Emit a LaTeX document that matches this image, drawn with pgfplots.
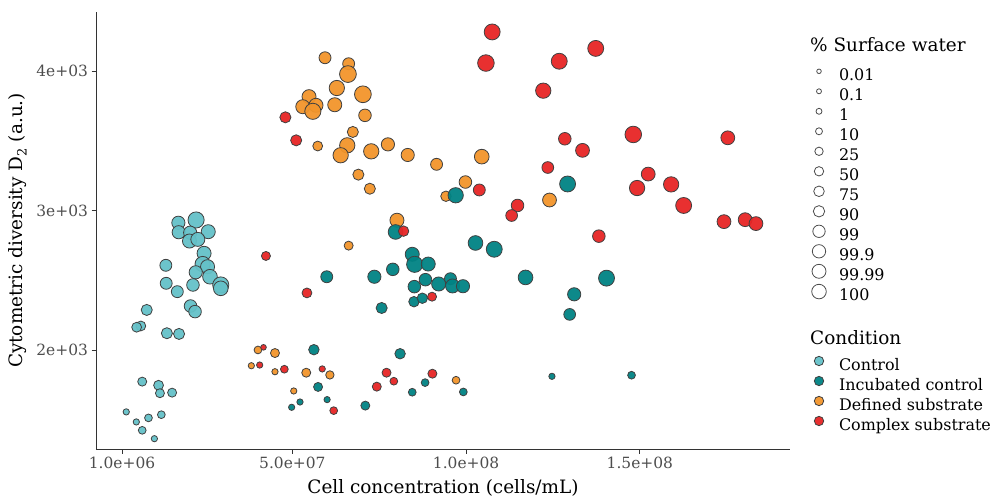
\documentclass[border=0pt]{standalone}
\usepackage{fontspec}
\setmainfont{DejaVu Serif}
\usepackage{pgfplots}
\usepackage{pgfplotstable}
\pgfplotsset{compat=1.18}
\definecolor{ctrl}{HTML}{64C1C8}
\definecolor{incub}{HTML}{008384}
\definecolor{defsub}{HTML}{F2952B}
\definecolor{cplx}{HTML}{E72525}
\definecolor{tickgrey}{HTML}{4D4D4D}

\pgfplotsset{
  % marker radius (pt) is taken from the meta column r
  pts/.style={scatter, only marks, mark=*,
    point meta=explicit, point meta min=0, point meta max=10,
    scatter/@pre marker code/.code={%
      \pgfmathsetmacro\rad{\pgfplotspointmetatransformed/95}%
      \scope[mark size=\rad pt, draw=black!75, fill=#1, fill opacity=0.95, line width=0.8pt]},
    scatter/@post marker code/.code={\endscope}},
  keybox/.style={legend image code/.code={%
      \path[draw=none, fill=none] (0bp,-4bp) rectangle (16bp,12bp);
      \draw[##1] plot coordinates {(8bp,5bp)};}},
  legbox/.style={scale only axis, width=1bp, height=1bp, hide axis,
    xmin=0, xmax=1, ymin=0, ymax=1, keybox, legend cell align=left,
    legend style={at={(0,1)}, anchor=north west, draw=none, fill=none,
      inner sep=0pt, outer sep=0pt, row sep=0bp, column sep=12bp,
      font=\fontsize{16}{19}\selectfont,
      nodes={inner sep=0pt, text height=12bp, text depth=4bp}}},
}

\pgfplotstableread{
x y r
17.2e6 2912 6.3
22.3e6 2932 7.7
17.3e6 2844 6.3
20.6e6 2841 6.3
25.8e6 2848 6.7
20.4e6 2781 6.7
22.8e6 2793 6.7
24.6e6 2693 6.7
24.2e6 2616 7.3
25.6e6 2597 6.7
22.2e6 2557 6.3
26.3e6 2525 7.0
29.4e6 2466 7.7
29.4e6 2442 7.0
13.6e6 2607 5.7
13.7e6 2478 5.7
16.9e6 2418 5.7
21.4e6 2466 6.0
20.7e6 2315 6.0
22.0e6 2275 6.0
8.1e6 2287 5.3
6.4e6 2172 4.7
5.2e6 2163 4.7
13.9e6 2120 5.3
17.4e6 2115 5.3
6.8e6 1773 4.3
11.5e6 1747 4.7
11.9e6 1690 4.3
15.4e6 1694 4.3
2.2e6 1556 3.0
5.1e6 1484 3.0
8.6e6 1513 3.7
12.3e6 1536 3.7
6.8e6 1424 3.7
10.3e6 1364 3.0
}\control

\pgfplotstableread{
x y r
59.4e6 4095 5.7
66.2e6 4052 5.7
66.0e6 3978 8.0
62.8e6 3878 7.3
70.3e6 3833 8.0
54.8e6 3816 6.7
53.0e6 3744 6.7
56.8e6 3754 6.7
55.9e6 3711 7.7
62.2e6 3758 6.7
70.9e6 3682 6.0
67.4e6 3563 5.3
65.8e6 3467 7.3
63.9e6 3396 7.3
72.7e6 3424 7.3
77.5e6 3474 6.3
83.2e6 3398 6.3
57.3e6 3462 4.7
69.0e6 3257 5.3
72.3e6 3156 5.3
91.5e6 3331 5.7
104.5e6 3386 7.0
99.8e6 3204 6.0
94.2e6 3102 5.0
80.1e6 2930 6.7
66.2e6 2748 4.3
124.0e6 3075 6.6
40.1e6 2000 3.7
45.0e6 1978 4.3
38.2e6 1887 3.0
45.0e6 1844 3.0
54.0e6 1837 4.3
60.8e6 1821 4.0
50.4e6 1706 3.0
97.1e6 1783 3.7
}\defined

\pgfplotstableread{
x y r
97.0e6 3109 7.3
79.7e6 2846 7.0
129.2e6 3190 7.6
102.7e6 2767 7.0
108.1e6 2722 7.6
84.5e6 2686 6.7
85.2e6 2614 7.7
89.1e6 2616 6.7
59.9e6 2525 5.7
73.6e6 2525 6.3
78.9e6 2578 6.0
88.3e6 2504 6.0
92.1e6 2473 6.7
95.5e6 2511 5.7
96.1e6 2459 6.7
99.1e6 2457 6.3
85.1e6 2454 6.0
117.1e6 2520 7.0
85.0e6 2346 5.0
87.4e6 2371 5.0
75.7e6 2301 5.3
140.4e6 2515 7.6
131.1e6 2399 6.3
129.8e6 2255 5.6
56.2e6 2002 5.0
57.4e6 1735 4.3
52.2e6 1627 3.0
49.8e6 1589 3.0
60.0e6 1644 3.0
71.0e6 1601 4.3
81.0e6 1973 5.0
88.2e6 1766 3.7
84.5e6 1697 3.7
99.2e6 1699 3.7
124.7e6 1811 3.0
147.6e6 1819 3.7
}\incubated

\pgfplotstableread{
x y r
48.0e6 3668 5.3
51.1e6 3503 5.3
103.8e6 3147 5.7
82.0e6 2852 5.0
107.5e6 4280 7.6
105.7e6 4057 7.9
126.8e6 4070 7.6
137.3e6 4162 7.6
122.2e6 3859 7.3
128.4e6 3514 6.0
133.5e6 3431 6.6
148.1e6 3545 7.9
175.3e6 3521 6.6
123.5e6 3308 5.6
152.4e6 3261 6.6
149.2e6 3161 7.3
159.0e6 3187 7.3
162.6e6 3036 7.6
174.2e6 2920 6.6
180.3e6 2934 6.6
183.4e6 2906 6.6
114.8e6 3036 6.0
113.1e6 2964 5.6
138.2e6 2816 6.0
42.4e6 2674 4.3
54.2e6 2409 4.7
90.2e6 2382 4.3
41.7e6 2019 2.7
40.6e6 1892 3.0
47.7e6 1862 3.7
58.6e6 1864 3.0
61.9e6 1565 3.7
77.1e6 1837 4.3
79.2e6 1776 3.7
74.3e6 1737 4.3
90.3e6 1830 4.3
}\complex

\begin{document}
\begin{tikzpicture}
\useasboundingbox (0,0) rectangle (993bp,499bp);
\begin{axis}[at={(96bp,50bp)}, anchor=south west, scale only axis,
  width=694bp, height=437bp,
  xmin=-6.5e6, xmax=193.2e6, ymin=1290, ymax=4423,
  axis x line*=bottom, axis y line*=left,
  axis line style={-, black!80, line width=0.9bp},
  xtick={1e6,5e7,1e8,1.5e8}, xticklabels={1.0e+06,5.0e+07,1.0e+08,1.5e+08},
  ytick={2000,3000,4000}, yticklabels={2e+03,3e+03,4e+03},
  scaled x ticks=false, scaled y ticks=false,
  tick align=outside, major tick length=4.5bp,
  tick style={black!80, line width=0.9bp},
  ticklabel style={font=\fontsize{15.5}{18}\selectfont, text=tickgrey},
  xlabel={Cell concentration (cells/mL)},
  ylabel={Cytometric diversity D\textsubscript{2} (a.u.)},
  label style={font=\fontsize{18.5}{22}\selectfont},
  xlabel style={at={(axis description cs:0.5,-0.0892)}, anchor=center},
  ylabel style={at={(axis description cs:-0.1124,0.5)}, anchor=center},
  clip=false]
\addplot[pts=ctrl] table[meta=r] {\control};
\addplot[pts=defsub] table[meta=r] {\defined};
\addplot[pts=incub] table[meta=r] {\incubated};
\addplot[pts=cplx] table[meta=r] {\complex};
\end{axis}

\node[anchor=west, inner sep=0pt, font=\fontsize{18.5}{22}\selectfont] at (810bp,454bp) {\% Surface water};
\node[anchor=west, inner sep=0pt, font=\fontsize{18.5}{22}\selectfont] at (810bp,161bp) {Condition};

\begin{axis}[legbox, at={(811bp,434.7bp)}, anchor=north west]
\addlegendimage{only marks, mark=o, mark size=2.3pt, draw=black!70, line width=0.8bp}
\addlegendentry{0.01}
\addlegendimage{only marks, mark=o, mark size=2.5pt, draw=black!70, line width=0.8bp}
\addlegendentry{0.1}
\addlegendimage{only marks, mark=o, mark size=3.0pt, draw=black!70, line width=0.8bp}
\addlegendentry{1}
\addlegendimage{only marks, mark=o, mark size=3.5pt, draw=black!70, line width=0.8bp}
\addlegendentry{10}
\addlegendimage{only marks, mark=o, mark size=4.2pt, draw=black!70, line width=0.8bp}
\addlegendentry{25}
\addlegendimage{only marks, mark=o, mark size=4.7pt, draw=black!70, line width=0.8bp}
\addlegendentry{50}
\addlegendimage{only marks, mark=o, mark size=5.3pt, draw=black!70, line width=0.8bp}
\addlegendentry{75}
\addlegendimage{only marks, mark=o, mark size=5.7pt, draw=black!70, line width=0.8bp}
\addlegendentry{90}
\addlegendimage{only marks, mark=o, mark size=6.2pt, draw=black!70, line width=0.8bp}
\addlegendentry{99}
\addlegendimage{only marks, mark=o, mark size=6.7pt, draw=black!70, line width=0.8bp}
\addlegendentry{99.9}
\addlegendimage{only marks, mark=o, mark size=7.0pt, draw=black!70, line width=0.8bp}
\addlegendentry{99.99}
\addlegendimage{only marks, mark=o, mark size=7.3pt, draw=black!70, line width=0.8bp}
\addlegendentry{100}
\end{axis}

\begin{axis}[legbox, at={(811bp,145bp)}, anchor=north west]
\addlegendimage{only marks, mark=*, mark size=4.7pt, draw=black!75, fill=ctrl, fill opacity=0.95, line width=0.8bp}
\addlegendentry{Control}
\addlegendimage{only marks, mark=*, mark size=4.7pt, draw=black!75, fill=incub, fill opacity=0.95, line width=0.8bp}
\addlegendentry{Incubated control}
\addlegendimage{only marks, mark=*, mark size=4.7pt, draw=black!75, fill=defsub, fill opacity=0.95, line width=0.8bp}
\addlegendentry{Defined substrate}
\addlegendimage{only marks, mark=*, mark size=4.7pt, draw=black!75, fill=cplx, fill opacity=0.95, line width=0.8bp}
\addlegendentry{Complex substrate}
\end{axis}
\end{tikzpicture}
\end{document}
